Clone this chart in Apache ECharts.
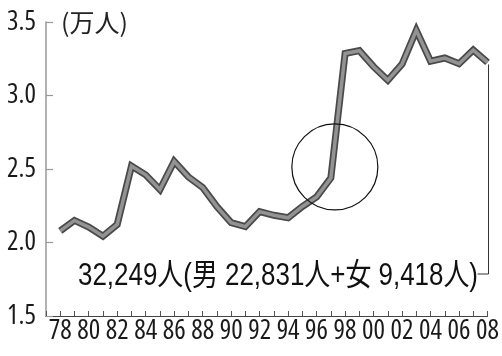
<!DOCTYPE html>
<html><head><meta charset="utf-8">
<script src="https://cdn.jsdelivr.net/npm/echarts@6/dist/echarts.min.js"></script>
<style>html,body{margin:0;padding:0;background:#fff}#c{width:502px;height:356px}</style>
</head><body><div id="c"></div>
<script>
const years = [1978,1979,1980,1981,1982,1983,1984,1985,1986,1987,1988,1989,1990,1991,1992,1993,1994,1995,1996,1997,1998,1999,2000,2001,2002,2003,2004,2005,2006,2007,2008];
const suicides = [2.079,2.150,2.105,2.043,2.123,2.520,2.460,2.360,2.552,2.446,2.374,2.244,2.135,2.108,2.210,2.185,2.168,2.245,2.310,2.439,3.286,3.305,3.196,3.104,3.214,3.443,3.233,3.255,3.216,3.309,3.225];
const xLabelYears = [1978,1980,1982,1984,1986,1988,1990,1992,1994,1996,1998,2000,2002,2004,2006,2008];
const xTickLabels = ['78','80','82','84','86','88','90','92','94','96','98','00','02','04','06','08'];
const yTicks = {min:1.5, max:3.5, interval:0.5};
const unitLabel = '(万人)';
const noteText = '32,249人(男 22,831人+女 9,418人)';

const ctx = document.createElement('canvas').getContext('2d');
function w(font, s){ ctx.font = font; return ctx.measureText(s).width; }
const baseFam = "'Liberation Sans',sans-serif";
let best = {stretch:'normal', fam:baseFam, width:w("30px " + baseFam, '78')};
['ultra-condensed','extra-condensed','condensed','semi-condensed'].forEach(st=>{
  ["'Noto Sans'","'DejaVu Sans'","'Open Sans'","'Roboto'","'Liberation Sans'"].forEach(f=>{
    const fam = f + ",'Liberation Sans',sans-serif";
    const ww = w(st + " 30px " + fam, '78');
    if (ww < best.width - 0.5) best = {stretch:st, fam:fam, width:ww};
  });
});
const tickSize = Math.min(30, Math.floor(30 * 23 / best.width));
const tickWeight = best.stretch === 'normal' ? 'normal' : best.stretch;

const labelOf = {};
xLabelYears.forEach((y,i)=>{ labelOf[y] = xTickLabels[i]; });
const lineData = years.map((y,i)=>[y, suicides[i]]);

const chart = echarts.init(document.getElementById('c'), null, {renderer:'canvas'});
chart.setOption({
  animation:false,
  backgroundColor:'#fff',
  grid:{left:46, right:12, top:22, bottom:40, containLabel:false},
  xAxis:{type:'value', min:1977, max:2008, interval:1,
    axisLine:{lineStyle:{color:'#444', width:1.2}},
    axisTick:{inside:true, length:5, lineStyle:{color:'#555'}},
    axisLabel:{margin:2, fontSize:tickSize, fontWeight:tickWeight, fontFamily:best.fam, color:'#1a1a1a',
      showMinLabel:true, showMaxLabel:true, hideOverlap:false,
      formatter:v=>labelOf[Math.round(v)] || ''},
    splitLine:{show:false}},
  yAxis:{type:'value', min:yTicks.min, max:yTicks.max, interval:yTicks.interval,
    axisLine:{show:true, lineStyle:{color:'#999', width:1.5}},
    axisTick:{show:true, inside:true, length:7, lineStyle:{color:'#999', width:1.2}},
    axisLabel:{margin:10, fontSize:Math.min(30, tickSize), fontWeight:tickWeight, fontFamily:best.fam, color:'#1a1a1a', formatter:v=>v.toFixed(1)},
    splitLine:{show:false}},
  series:[
    {type:'line', data:lineData, symbol:'none', silent:true, z:2,
     lineStyle:{color:'#4a4a4a', width:7, join:'miter'}},
    {type:'line', data:lineData, symbol:'none', silent:true, z:3,
     lineStyle:{color:'#939393', width:3.5, join:'miter'}}
  ]
});

const lastIdx = years.length - 1;
const endPt = chart.convertToPixel({gridIndex:0}, lineData[lastIdx]);
const p97 = chart.convertToPixel({gridIndex:0}, lineData[years.indexOf(1997)]);
const noteFont = "31px 'Liberation Sans','Noto Sans CJK JP',sans-serif";
const noteScale = 400 / w(noteFont, noteText);
const unitFont = "25px 'Noto Sans CJK JP',sans-serif";

chart.setOption({graphic:[
  {type:'circle', shape:{cx:p97[0]+4, cy:p97[1]-11, r:43}, style:{fill:'none', stroke:'#111', lineWidth:1.2}, z:10},
  {type:'polyline', shape:{points:[[endPt[0]+1, endPt[1]+2],[endPt[0]+1, 274],[endPt[0]-10, 274]]}, style:{stroke:'#333', lineWidth:1, fill:'none'}, z:10},
  {type:'text', x:78, y:276, scaleX:noteScale, style:{text:noteText, font:noteFont, fill:'#111', textAlign:'left', textVerticalAlign:'middle'}, z:10},
  {type:'text', x:61, y:22, style:{text:unitLabel, font:unitFont, fill:'#222', textAlign:'left', textVerticalAlign:'middle'}, z:10}
]});
</script></body></html>
